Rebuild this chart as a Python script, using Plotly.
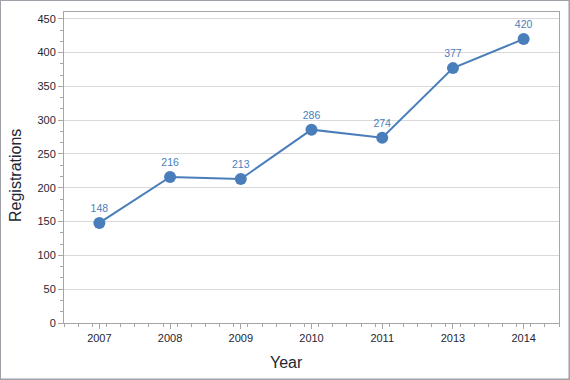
import plotly.graph_objects as go

years = ["2007", "2008", "2009", "2010", "2011", "2013", "2014"]
registrations = [148, 216, 213, 286, 274, 377, 420]
y_ticks = [0, 50, 100, 150, 200, 250, 300, 350, 400, 450]

W, H = 570, 380
L, R, T, B = 64, 11, 12, 57
pw, ph = W - L - R, H - T - B

def px_x(px):
    return (px - L) / pw

def px_y(py):
    return (H - B - py) / ph

xpos = list(range(len(years)))
blue = "#4a7ebb"
font = "Liberation Sans"
txt = "#262633"

fig = go.Figure()
fig.add_trace(go.Scatter(
    x=xpos, y=registrations, mode="lines+markers+text",
    text=[str(v) for v in registrations], textposition="top center",
    textfont=dict(family=font, size=10.5, color=blue),
    line=dict(color=blue, width=2),
    marker=dict(size=12, color=blue),
    cliponaxis=False, hoverinfo="skip",
))

fig.update_layout(
    width=W, height=H, margin=dict(l=L, r=R, t=T, b=B, autoexpand=False),
    paper_bgcolor="white", plot_bgcolor="white", showlegend=False,
    font=dict(family=font, size=11, color=txt),
    xaxis=dict(
        range=[-0.5, len(years) - 0.5], tickvals=xpos, ticktext=years,
        showgrid=False, zeroline=False, showline=True, mirror=True,
        linecolor="#a6a6a6", linewidth=1, ticks="outside", ticklen=5,
        tickcolor="#a6a6a6", automargin=False,
        minor=dict(dtick=0.2, tick0=-0.5, ticks="outside", ticklen=3, tickcolor="#a6a6a6", showgrid=False),
        tickfont=dict(family=font, size=11, color=txt),
    ),
    yaxis=dict(
        range=[0, 460], tickvals=y_ticks, showgrid=True, gridcolor="#d9d9d9",
        zeroline=False, showline=True, mirror=True, linecolor="#a6a6a6",
        linewidth=1, ticks="outside", ticklen=5, tickcolor="#a6a6a6",
        automargin=False,
        minor=dict(dtick=50 / 3, tick0=0, ticks="outside", ticklen=3, tickcolor="#a6a6a6", showgrid=False),
        tickfont=dict(family=font, size=11, color=txt),
    ),
)

fig.add_annotation(text="Year", xref="paper", yref="paper", x=px_x(286), y=px_y(362),
                   xanchor="center", yanchor="middle", showarrow=False,
                   font=dict(family=font, size=16, color=txt))
fig.add_annotation(text="Registrations", xref="paper", yref="paper", x=px_x(15), y=px_y(176),
                   xanchor="center", yanchor="middle", showarrow=False, textangle=-90,
                   font=dict(family=font, size=16, color=txt))

fig.add_shape(type="rect", xref="paper", yref="paper",
              x0=px_x(0), x1=px_x(569.5), y0=px_y(379.5), y1=px_y(0),
              line=dict(color="#a0a0a8", width=2), layer="above")

fig.write_html("out.html", config={"displayModeBar": False},
               post_script="document.body.style.margin='0px';document.body.style.overflow='hidden';")
